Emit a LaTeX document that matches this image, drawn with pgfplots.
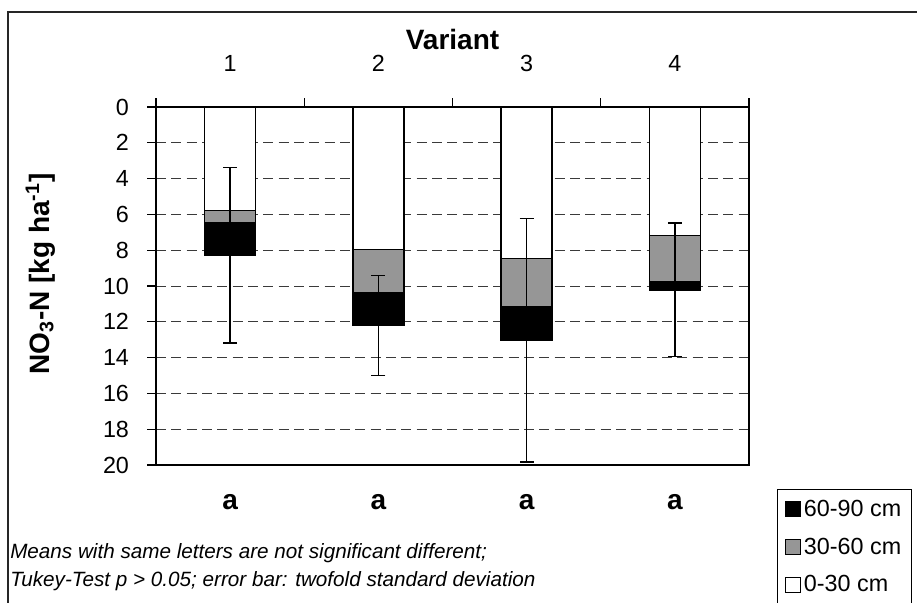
\documentclass[border=0pt]{standalone}
\usepackage{fontspec}
\setmainfont{Liberation Sans}
\usepackage{pgfplots}
\pgfplotsset{compat=1.18}

\definecolor{barGray}{HTML}{969696}
\definecolor{gridGray}{HTML}{3A3A3A}

% depth of each layer, cumulated from the surface (kg/ha)
% 0-30 cm: 5.78 7.95 8.47 7.19 ; +30-60 cm: 6.45 10.37 11.17 9.78 ; +60-90 cm: 8.29 12.20 13.04 10.22

\begin{document}
\begin{tikzpicture}
% page = 917 x 603 px at 0.75pt per px
\path[use as bounding box] (0,0) rectangle (687.75pt,-452.25pt);
\draw[line width=1pt, black!85] (6pt,-470pt) -- (6pt,-9pt) -- (700pt,-9pt);

\begin{axis}[
  at={(339.375pt,-214.5pt)}, anchor=center,
  scale only axis, width=444.75pt, height=268.5pt,
  ybar, bar width=38.25pt, bar shift=0pt,
  xmin=0.5, xmax=4.5, ymin=0, ymax=20, y dir=reverse,
  xtick={1,2,3,4}, xticklabels={1,2,3,4},
  major x tick style={draw=none},
  minor xtick={0.5,1.5,2.5,3.5,4.5},
  xtick pos=right, xticklabel pos=right,
  ytick={0,2,...,20}, ytick pos=left,
  tick align=outside, major tick length=6.75pt, minor tick length=6.75pt,
  tick style={line width=0.8pt, black},
  axis line style={line width=1pt, black},
  ymajorgrids,
  major grid style={gridGray, line width=0.75pt, dash pattern=on 7.5pt off 4pt},
  /pgf/number format/assume math mode=true,
  ticklabel style={font=\fontsize{17.5}{20}\selectfont},
  xticklabel style={yshift=16pt},
  yticklabel style={xshift=-10pt},
  xlabel={Variant},
  xlabel style={font=\fontsize{21}{24}\selectfont\bfseries, yshift=-2.5pt},
  ylabel={NO\textsubscript{3}-N [kg ha\textsuperscript{-1}]},
  ylabel style={font=\fontsize{21}{24}\selectfont\bfseries, yshift=29pt, xshift=9pt},
  clip=false,
  legend style={at={(axis description cs:1.047,-0.067)}, anchor=north west,
    draw=black, line width=0.75pt, font=\fontsize{17.5}{20}\selectfont,
    inner xsep=6pt, inner ysep=6pt, row sep=10.6pt, cells={anchor=west}},
  legend image code/.code={\draw[#1, draw=black, line width=0.75pt] (0pt,-5.6pt) rectangle (11.2pt,5.6pt);},
]
\addplot[fill=black, draw=black, line width=1pt] coordinates {(1,8.29) (2,12.20) (3,13.04) (4,10.22)};
\addplot[fill=barGray, draw=black, line width=1pt] coordinates {(1,6.45) (2,10.37) (3,11.17) (4,9.78)};
\addplot[fill=white, draw=black, line width=1pt] coordinates {(1,5.78) (2,7.95) (3,8.47) (4,7.19)};
% error bars: twofold standard deviation around the total
\addplot[draw=none, fill=none, forget plot,
  error bars/.cd, y dir=both, y explicit,
  error bar style={line width=1.1pt, draw=black},
  error mark options={rotate=90, line width=1.1pt, draw=black, mark size=5.25pt}]
  coordinates {(1,8.29) +- (0,4.9) (2,12.20) +- (0,2.8) (3,13.04) +- (0,6.8) (4,10.22) +- (0,3.73)};
\legend{60-90 cm, 30-60 cm, 0-30 cm}

\node[font=\fontsize{21}{24}\selectfont\bfseries] at (axis cs:1,22.05) {a};
\node[font=\fontsize{21}{24}\selectfont\bfseries] at (axis cs:2,22.05) {a};
\node[font=\fontsize{21}{24}\selectfont\bfseries] at (axis cs:3,22.05) {a};
\node[font=\fontsize{21}{24}\selectfont\bfseries] at (axis cs:4,22.05) {a};
\end{axis}

\node[anchor=base west, font=\fontsize{15.5}{18}\selectfont\itshape, inner sep=0pt] at (7.5pt,-419pt) {Means with same letters are not significant different;};
\node[anchor=base west, font=\fontsize{15.5}{18}\selectfont\itshape, inner sep=0pt] at (7.5pt,-440pt) {Tukey-Test p > 0.05; error bar: twofold standard deviation};
\end{tikzpicture}
\end{document}
